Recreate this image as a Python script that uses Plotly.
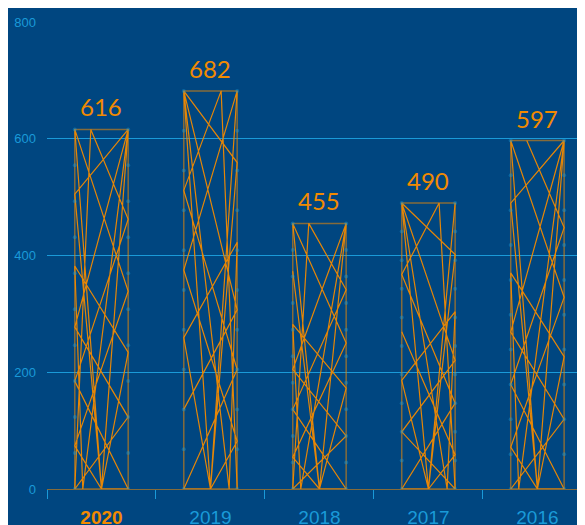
import plotly.graph_objects as go

# ---- data ----
years = ["2020", "2019", "2018", "2017", "2016"]
values = [616, 682, 455, 490, 597]
y_ticks = [0, 200, 400, 600, 800]

# ---- style ----
BG = "#004680"
BLUE = "#1a9ad8"
ORANGE = "#f28a00"
BAR_W = 0.49
LABEL_FONT = "'Liberation Sans', Arial, sans-serif"
VALUE_FONT = "Lato, 'Open Sans', sans-serif"

# decorative string-art pattern (fractions of bar width / height)
PATTERN = [(0, 1), (1, 0.55), (0, 0.12), (0.5, 0), (1, 1), (0, 0.45), (1, 0.2),
           (0, 0), (0.3, 1), (1, 0.75), (0, 0.3), (1, 0), (0.5, 0), (0, 0.82),
           (1, 1), (0.15, 0), (0, 0.62), (1, 0.38), (0.5, 0), (0, 1)]

fig = go.Figure()

fig.add_trace(go.Bar(
    x=list(range(len(years))), y=values, width=BAR_W,
    marker=dict(color="rgba(0,0,0,0)", line=dict(color="rgba(242,138,0,0.55)", width=1.5)),
    hoverinfo="skip", showlegend=False,
))

for i, v in enumerate(values):
    n = len(PATTERN)
    shift = (i * 7) % n
    pts = PATTERN[shift:] + PATTERN[:shift]
    mirror = (i % 2 == 1)
    xs, ys = [], []
    for xf, yf in pts:
        if mirror:
            xf = 1 - xf
        xs.append(i - BAR_W / 2 + xf * BAR_W)
        ys.append(yf * v)
    fig.add_trace(go.Scatter(
        x=xs, y=ys, mode="lines",
        line=dict(color=ORANGE, width=1.2),
        opacity=0.95, hoverinfo="skip", showlegend=False,
    ))
    dots_y = [v * k / 10 for k in range(11)]
    fig.add_trace(go.Scatter(
        x=[i - BAR_W / 2] * 11 + [i + BAR_W / 2] * 11, y=dots_y + dots_y,
        mode="markers", marker=dict(color="rgba(26,154,216,0.4)", size=4),
        hoverinfo="skip", showlegend=False,
    ))

for i, v in enumerate(values):
    fig.add_annotation(
        x=i, y=v, text=str(v), showarrow=False, yanchor="bottom", yshift=6,
        font=dict(family=VALUE_FONT, size=24, color=ORANGE),
    )

ticktext = [f"<b><span style='color:{ORANGE}'>{years[0]}</span></b>"] + years[1:]

fig.update_layout(
    width=585, height=525,
    margin=dict(l=39, r=0, t=14, b=44),
    paper_bgcolor=BG, plot_bgcolor=BG,
    font=dict(family=LABEL_FONT, color=BLUE),
    xaxis=dict(
        range=[-0.5, 4.51], tickvals=list(range(len(years))), ticktext=ticktext,
        ticks="", showgrid=False, zeroline=False, showline=False,
        tickfont=dict(family=LABEL_FONT, size=19, color=BLUE), ticklabelstandoff=15,
        minor=dict(tick0=-0.5, dtick=1, ticks="outside", ticklen=9,
                   tickcolor=BLUE, tickwidth=1, showgrid=False),
        fixedrange=True,
    ),
    yaxis=dict(
        range=[0, 800], tickvals=y_ticks, showgrid=True, gridcolor=BLUE, gridwidth=1,
        zeroline=True, zerolinecolor="rgba(242,138,0,0.55)", zerolinewidth=1,
        tickfont=dict(family=LABEL_FONT, size=13, color=BLUE), ticks="", ticklabelstandoff=10,
        showline=False, fixedrange=True,
    ),
)

fig.write_html("out.html")
